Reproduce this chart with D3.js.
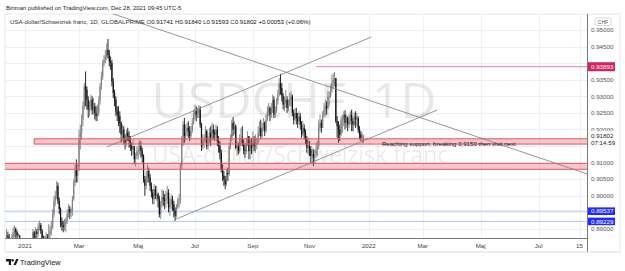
<!DOCTYPE html>
<html><head><meta charset="utf-8">
<script src="https://cdn.jsdelivr.net/npm/d3@7"></script>
<style>
html,body{margin:0;padding:0;background:#fff;}
svg{display:block;font-family:"Liberation Sans",Arial,sans-serif;}
</style></head><body>
<svg id="chart" width="625" height="271"></svg>
<script>
// ---------------- DATA ----------------
const firstBarDate = "2020-12-14";
const firstOpen = 0.8870;
const lastOpen = 0.91741;
const closes = [
0.8880,0.8875,0.8860,0.8845,0.8870, 0.8890,0.8900,0.8890,0.8880,0.8882, 0.8860,0.8850,0.8830,0.8850,0.8845,
0.8810,0.8795,0.8800,0.8855,0.8860, 0.8890,0.8865,0.8892,0.8885,0.8905, 0.8912,0.8895,0.8868,0.8855,0.8868,
0.8875,0.8865,0.8885,0.8895,0.8905, 0.8945,0.8985,0.9000,0.9030,0.8985, 0.8960,0.8920,0.8912,0.8905,0.8915,
0.8925,0.8945,0.8960,0.8950,0.8955, 0.8990,0.9040,0.9080,0.9060,0.9075, 0.9170,0.9190,0.9230,0.9270,0.9330,
0.9320,0.9290,0.9260,0.9270,0.9290, 0.9260,0.9270,0.9250,0.9240,0.9250, 0.9285,0.9330,0.9360,0.9400,0.9410,
0.9420,0.9440,0.9425,0.9405,0.9400, 0.9345,0.9310,0.9290,0.9255,0.9245, 0.9240,0.9220,0.9185,0.9200,0.9170,
0.9160,0.9190,0.9180,0.9165,0.9150, 0.9140,0.9150,0.9110,0.9120,0.9135, 0.9140,0.9150,0.9135,0.9120,0.9050,
0.9030,0.9060,0.9075,0.9055,0.9030, 0.9010,0.8990,0.9020,0.9000,0.9005, 0.8990,0.8945,0.8975,0.8995,0.8990,
0.8985,0.8990,0.9010,0.8965,0.8975, 0.8990,0.8975,0.8955,0.8940,0.8965, 0.8985,0.8990,0.9090,0.9160,0.9215,
0.9180,0.9190,0.9205,0.9195,0.9180, 0.9195,0.9220,0.9245,0.9255,0.9245, 0.9250,0.9260,0.9215,0.9150,0.9165,
0.9170,0.9195,0.9150,0.9165,0.9190, 0.9175,0.9200,0.9190,0.9185,0.9200, 0.9165,0.9150,0.9130,0.9080,0.9060,
0.9050,0.9035,0.9070,0.9065,0.9150, 0.9175,0.9220,0.9200,0.9210,0.9145, 0.9150,0.9135,0.9170,0.9175,0.9160,
0.9140,0.9135,0.9160,0.9180,0.9135, 0.9155,0.9145,0.9160,0.9150,0.9155, 0.9160,0.9190,0.9205,0.9180,0.9205,
0.9220,0.9195,0.9230,0.9255,0.9265, 0.9245,0.9265,0.9290,0.9245,0.9255, 0.9285,0.9305,0.9340,0.9325,0.9300,
0.9275,0.9280,0.9290,0.9265,0.9275, 0.9290,0.9300,0.9250,0.9230,0.9250, 0.9235,0.9225,0.9240,0.9215,0.9185,
0.9205,0.9190,0.9170,0.9145,0.9150, 0.9140,0.9120,0.9125,0.9115,0.9125, 0.9140,0.9150,0.9215,0.9220,0.9205,
0.9240,0.9260,0.9270,0.9265,0.9300, 0.9300,0.9320,0.9340,0.9350,0.9355, 0.9225,0.9210,0.9200,0.9185,0.9230,
0.9230,0.9245,0.9220,0.9235,0.9215, 0.9230,0.9245,0.9225,0.9215,0.9240, 0.9230,0.9235,0.9200,0.9185,0.9174,
0.91741,0.91802
];
const highs = [
0.8900,0.8892,0.8885,0.8870,0.8885, 0.8905,0.8912,0.8905,0.8895,0.8888, 0.8871,0.8868,0.8855,0.8862,0.8852,
0.8860,0.8820,0.8830,0.8868,0.8870, 0.8900,0.8895,0.8905,0.8900,0.8918, 0.8925,0.8918,0.8900,0.8880,0.8880,
0.8890,0.8885,0.8915,0.8910,0.8925, 0.8960,0.9000,0.9015,0.9045,0.9040, 0.8995,0.8965,0.8935,0.8925,0.8930,
0.8935,0.8960,0.8975,0.8970,0.8965, 0.9000,0.9050,0.9095,0.9110,0.9095, 0.9200,0.9215,0.9245,0.9285,0.9340,
0.9375,0.9330,0.9300,0.9285,0.9305, 0.9300,0.9295,0.9280,0.9270,0.9275, 0.9300,0.9340,0.9375,0.9410,0.9425,
0.9440,0.9460,0.9473,0.9440,0.9420, 0.9410,0.9355,0.9320,0.9300,0.9270, 0.9270,0.9255,0.9225,0.9215,0.9210,
0.9185,0.9200,0.9205,0.9195,0.9180, 0.9160,0.9170,0.9150,0.9130,0.9150, 0.9160,0.9168,0.9165,0.9145,0.9125,
0.9060,0.9075,0.9095,0.9085,0.9065, 0.9040,0.9020,0.9035,0.9030,0.9030, 0.9010,0.9000,0.8985,0.9020,0.9015,
0.9005,0.9015,0.9030,0.9020,0.8995, 0.9005,0.9000,0.8985,0.8965,0.8975, 0.8995,0.9005,0.9100,0.9180,0.9225,
0.9235,0.9215,0.9220,0.9225,0.9210, 0.9210,0.9235,0.9260,0.9275,0.9270, 0.9265,0.9274,0.9270,0.9220,0.9185,
0.9185,0.9210,0.9200,0.9180,0.9205, 0.9210,0.9220,0.9215,0.9200,0.9215, 0.9210,0.9180,0.9165,0.9140,0.9095,
0.9075,0.9060,0.9080,0.9085,0.9160, 0.9185,0.9230,0.9237,0.9225,0.9215, 0.9165,0.9160,0.9185,0.9205,0.9210,
0.9170,0.9155,0.9175,0.9195,0.9180, 0.9170,0.9175,0.9195,0.9180,0.9185, 0.9175,0.9210,0.9225,0.9230,0.9220,
0.9235,0.9225,0.9245,0.9270,0.9280, 0.9270,0.9280,0.9305,0.9300,0.9270, 0.9295,0.9320,0.9355,0.9368,0.9340,
0.9310,0.9300,0.9320,0.9300,0.9290, 0.9310,0.9315,0.9305,0.9260,0.9265, 0.9265,0.9250,0.9255,0.9250,0.9225,
0.9225,0.9215,0.9200,0.9180,0.9175, 0.9165,0.9150,0.9145,0.9140,0.9140, 0.9160,0.9165,0.9230,0.9245,0.9230,
0.9255,0.9280,0.9290,0.9285,0.9315, 0.9315,0.9335,0.9365,0.9370,0.9374, 0.9355,0.9240,0.9225,0.9215,0.9240,
0.9245,0.9255,0.9258,0.9245,0.9240, 0.9245,0.9255,0.9260,0.9235,0.9250, 0.9255,0.9250,0.9240,0.9210,0.9195,
0.9190,0.91840
];
const lows = [
0.8855,0.8860,0.8840,0.8810,0.8840, 0.8850,0.8875,0.8870,0.8865,0.8875, 0.8845,0.8830,0.8815,0.8825,0.8840,
0.8800,0.8780,0.8760,0.8795,0.8830, 0.8850,0.8850,0.8860,0.8870,0.8878, 0.8895,0.8885,0.8855,0.8840,0.8845,
0.8855,0.8850,0.8860,0.8870,0.8880, 0.8900,0.8935,0.8970,0.8990,0.8975, 0.8945,0.8905,0.8895,0.8890,0.8895,
0.8890,0.8915,0.8935,0.8930,0.8935, 0.8940,0.8985,0.9030,0.9040,0.9040, 0.9090,0.9140,0.9170,0.9210,0.9260,
0.9270,0.9260,0.9235,0.9240,0.9255, 0.9245,0.9245,0.9230,0.9225,0.9225, 0.9240,0.9275,0.9320,0.9350,0.9390,
0.9400,0.9410,0.9415,0.9390,0.9380, 0.9330,0.9295,0.9270,0.9240,0.9225, 0.9210,0.9190,0.9160,0.9170,0.9155,
0.9140,0.9150,0.9165,0.9145,0.9135, 0.9120,0.9125,0.9095,0.9088,0.9110, 0.9110,0.9125,0.9115,0.9100,0.9040,
0.9000,0.9020,0.9040,0.9040,0.9015, 0.8995,0.8975,0.8975,0.8990,0.8985, 0.8965,0.8935,0.8930,0.8965,0.8970,
0.8960,0.8965,0.8975,0.8950,0.8940, 0.8960,0.8955,0.8935,0.8925,0.8935, 0.8960,0.8965,0.8975,0.9080,0.9150,
0.9160,0.9165,0.9180,0.9175,0.9165, 0.9170,0.9190,0.9215,0.9230,0.9225, 0.9235,0.9235,0.9205,0.9135,0.9140,
0.9145,0.9160,0.9140,0.9140,0.9160, 0.9150,0.9165,0.9170,0.9165,0.9175, 0.9150,0.9130,0.9110,0.9070,0.9045,
0.9030,0.9020,0.9030,0.9045,0.9060, 0.9140,0.9165,0.9180,0.9185,0.9140, 0.9120,0.9125,0.9130,0.9150,0.9150,
0.9125,0.9115,0.9125,0.9150,0.9110, 0.9110,0.9125,0.9130,0.9135,0.9130, 0.9140,0.9155,0.9180,0.9170,0.9175,
0.9195,0.9180,0.9190,0.9225,0.9240, 0.9225,0.9235,0.9250,0.9235,0.9235, 0.9250,0.9275,0.9300,0.9305,0.9285,
0.9260,0.9255,0.9265,0.9250,0.9255, 0.9270,0.9270,0.9240,0.9215,0.9225, 0.9215,0.9205,0.9215,0.9200,0.9175,
0.9180,0.9170,0.9155,0.9130,0.9125, 0.9120,0.9100,0.9095,0.9090,0.9100, 0.9115,0.9120,0.9140,0.9195,0.9190,
0.9205,0.9235,0.9240,0.9245,0.9260, 0.9270,0.9295,0.9310,0.9325,0.9330, 0.9220,0.9175,0.9160,0.9165,0.9180,
0.9190,0.9210,0.9200,0.9205,0.9195, 0.9205,0.9215,0.9195,0.9195,0.9210, 0.9205,0.9210,0.9190,0.9170,0.9165,
0.9158,0.91593
];
const priceTicks = [0.95,0.945,0.94,0.935,0.93,0.925,0.92,0.915,0.91,0.905,0.90,0.895,0.89];
const priceTickLabels = [0.95,0.945,0.935,0.93,0.925,0.92,0.91,0.905,0.90,0.89];
const timeTickDates = ["2021-01-01","2021-03-01","2021-05-03","2021-07-01","2021-09-01","2021-11-01","2022-01-03","2022-03-01","2022-05-02","2022-07-01","2022-08-15"];
const timeTickLabels = ["2021","Mar","Maj","Jul","Sep","Nov","2022","Mar","Maj","Jul","15"];
const zoneFrom = ["2021-01-12","2020-11-02"];
const zoneTop = [0.9172, 0.9098];
const zoneBottom = [0.9156, 0.9080];
const trendFromDate = ["2021-03-26","2021-03-30","2021-06-09"];
const trendFromPrice = [0.95579, 0.91472, 0.89271];
const trendToDate = ["2022-08-31","2022-01-05","2022-03-16"];
const trendToPrice = [0.90577, 0.94789, 0.92588];
const resistanceLevel = 0.93893, resistanceFrom = "2021-11-08";
const blueLevels = [0.89537, 0.89229];
const lastPrice = 0.91802, countdown = "07:14:59";
const noteText = "Reaching support, breaking 0,9150 then visit next";
const noteDate = "2022-01-17", notePrice = 0.91575;
const headerText = "Birtman published on TradingView.com, Dec 28, 2021 09:45 UTC-5";
const symbolTitle = "USA-dollar/Schweizisk franc, 1D, GLOBALPRIME";
const ohlcText = [["O","0.91741"],["H","0.91840"],["L","0.91593"],["C","0.91802"]];
const changeText = "+0.00053 (+0.06%)";

// ---------------- SETUP ----------------
const svg = d3.select("#chart");
const parse = d3.utcParse("%Y-%m-%d");
const days = d3.utcDay.range(parse("2020-11-02"), parse("2022-10-01"))
  .filter(d => d.getUTCDay() !== 0 && d.getUTCDay() !== 6);
const dayIdx = new Map(days.map((d,i)=>[+d,i]));
const idxOf = s => dayIdx.get(+parse(s));
const L = 5, R = 587, T = 14, B = 238;
const x = d3.scaleLinear().domain([idxOf("2021-01-01"), idxOf("2022-08-15")]).range([25, 579.5]);
const xd = s => x(idxOf(s));
const y = d3.scaleLinear().domain([0.89, 0.95]).range([229, 30]);

const start = idxOf(firstBarDate);
const bars = closes.map((c,i)=>({i:start+i, c, h:highs[i], l:lows[i],
  o: i===closes.length-1 ? lastOpen : (i===0 ? firstOpen : closes[i-1])}));

// frame
svg.append("rect").attr("x",L).attr("y",T).attr("width",620-L).attr("height",252-T)
  .attr("fill","#fff").attr("stroke","#e0e3eb").attr("stroke-width",0.8);

const defs = svg.append("defs");
defs.append("clipPath").attr("id","plot").append("rect").attr("x",L).attr("y",T).attr("width",R-L).attr("height",B-T);

// grid
const grid = svg.append("g").attr("clip-path","url(#plot)");
grid.selectAll("line.h").data(priceTicks).join("line")
  .attr("x1",L).attr("x2",R).attr("y1",d=>Math.round(y(d))+0.5).attr("y2",d=>Math.round(y(d))+0.5)
  .attr("stroke","#eef0f5").attr("stroke-width",1);
grid.selectAll("line.v").data(timeTickDates).join("line")
  .attr("x1",d=>Math.round(xd(d))+0.5).attr("x2",d=>Math.round(xd(d))+0.5).attr("y1",T).attr("y2",B)
  .attr("stroke","#eef0f5").attr("stroke-width",1);

// watermark
svg.append("text").attr("x",294).attr("y",118).attr("text-anchor","middle")
  .attr("font-size",50).attr("fill","#000").attr("fill-opacity",0.09)
  .attr("font-family","'Open Sans',sans-serif").text("USDCHF, 1D");
svg.append("text").attr("x",300).attr("y",163).attr("text-anchor","middle")
  .attr("font-size",23).attr("fill","#000").attr("fill-opacity",0.09)
  .attr("font-family","'Open Sans',sans-serif").text("USA-dollar/Schweizisk franc");

const plot = svg.append("g").attr("clip-path","url(#plot)");

// blue levels
plot.selectAll("line.blue").data(blueLevels).join("line")
  .attr("x1",L).attr("x2",R).attr("y1",d=>y(d)).attr("y2",d=>y(d))
  .attr("stroke","#b9c0ff").attr("stroke-width",1);

// candles
const up = "#808080", dn = "#111";
plot.selectAll("line.wick").data(bars).join("line")
  .attr("x1",d=>x(d.i)).attr("x2",d=>x(d.i)).attr("y1",d=>y(d.h)).attr("y2",d=>y(d.l))
  .attr("stroke",d=>d.c>=d.o?up:dn).attr("stroke-width",0.9);
plot.selectAll("rect.body").data(bars).join("rect")
  .attr("x",d=>x(d.i)-0.6).attr("width",1.2)
  .attr("y",d=>y(Math.max(d.o,d.c))).attr("height",d=>Math.max(0.6,Math.abs(y(d.o)-y(d.c))))
  .attr("fill",d=>d.c>=d.o?up:dn);

// zones
plot.selectAll("rect.zone").data(zoneFrom).join("rect")
  .attr("x",d=>xd(d)).attr("width",d=>R+10-xd(d))
  .attr("y",(d,i)=>y(zoneTop[i])).attr("height",(d,i)=>y(zoneBottom[i])-y(zoneTop[i]))
  .attr("fill","rgba(236,70,80,0.3)").attr("stroke","#e05763").attr("stroke-width",1);

// trendlines
plot.selectAll("line.trend").data(trendFromDate).join("line")
  .attr("x1",d=>xd(d)).attr("y1",(d,i)=>y(trendFromPrice[i]))
  .attr("x2",(d,i)=>xd(trendToDate[i])).attr("y2",(d,i)=>y(trendToPrice[i]))
  .attr("stroke","#7c7c7c").attr("stroke-width",0.8);

// resistance
plot.append("line").attr("x1",xd(resistanceFrom)).attr("x2",R).attr("y1",y(resistanceLevel)).attr("y2",y(resistanceLevel))
  .attr("stroke","#e8799c").attr("stroke-width",1);

// note
svg.append("text").attr("x",xd(noteDate)).attr("y",y(notePrice)).attr("dy","0.35em")
  .attr("font-size",6.1).attr("fill","#111").text(noteText);

// axes lines
svg.append("line").attr("x1",R+0.5).attr("x2",R+0.5).attr("y1",T).attr("y2",252).attr("stroke","#555").attr("stroke-width",0.8);
svg.append("line").attr("x1",L).attr("x2",R).attr("y1",B+0.5).attr("y2",B+0.5).attr("stroke","#555").attr("stroke-width",0.8);

// price labels
const pAxis = svg.append("g");
pAxis.selectAll("text").data(priceTickLabels).join("text")
  .attr("x",591).attr("y",d=>y(d)).attr("dy","0.35em").attr("font-size",6.2).attr("fill","#555")
  .text(d=>d3.format(".5f")(d));
// last price box
pAxis.append("rect").attr("x",R+1).attr("y",y(lastPrice)-5).attr("width",30).attr("height",14).attr("fill","#fff");
pAxis.append("text").attr("x",591).attr("y",y(lastPrice)).attr("dy","0.35em").attr("font-size",6.2).attr("fill","#222").text(d3.format(".5f")(lastPrice));
pAxis.append("text").attr("x",591).attr("y",y(lastPrice)+7).attr("dy","0.35em").attr("font-size",6.2).attr("fill","#222").text(countdown);
// resistance label
pAxis.append("rect").attr("x",R+1).attr("y",y(resistanceLevel)-4.5).attr("width",27).attr("height",9).attr("fill","#d3225f");
pAxis.append("text").attr("x",591).attr("y",y(resistanceLevel)).attr("dy","0.35em").attr("font-size",6.2).attr("fill","#fff").text(d3.format(".5f")(resistanceLevel));
// blue labels
blueLevels.forEach(v=>{
  pAxis.append("rect").attr("x",R+1).attr("y",y(v)-3.8).attr("width",27).attr("height",7.6).attr("fill","#1f2bff");
  pAxis.append("text").attr("x",591).attr("y",y(v)).attr("dy","0.35em").attr("font-size",6.2).attr("fill","#fff").text(d3.format(".5f")(v));
});
// CHF tag
pAxis.append("rect").attr("x",595).attr("y",18).attr("width",16).attr("height",7.5).attr("rx",2)
  .attr("fill","#fff").attr("stroke","#bbb").attr("stroke-width",0.6);
pAxis.append("text").attr("x",603).attr("y",21.8).attr("dy","0.35em").attr("text-anchor","middle").attr("font-size",5).attr("fill","#555").text("CHF");

// time labels
svg.selectAll("text.t").data(timeTickDates).join("text")
  .attr("x",d=>xd(d)).attr("y",245.5).attr("dy","0.35em").attr("text-anchor","middle")
  .attr("font-size",6.2).attr("fill","#444").text((d,i)=>timeTickLabels[i]);
svg.append("line").attr("x1",L).attr("x2",620).attr("y1",252).attr("y2",252).attr("stroke","#e0e3eb").attr("stroke-width",0.8);

// header & legend
svg.append("text").attr("x",6).attr("y",7.5).attr("dy","0.35em").attr("font-size",5.9).attr("fill","#222").text(headerText);
const leg = svg.append("text").attr("x",10).attr("y",22).attr("dy","0.35em").attr("font-size",6.1).attr("fill","#333");
leg.append("tspan").text(symbolTitle + " ");
ohlcText.forEach(([k,v])=>{ leg.append("tspan").text(k); leg.append("tspan").attr("fill","#111").text(v+" "); });
leg.append("tspan").attr("fill","#111").text(changeText);

// logo
const lg = svg.append("g").attr("fill","#131722");
lg.append("path").attr("d","M6 259 h5 v6 h-2.2 v-3.6 h-2.8 z");
lg.append("circle").attr("cx",12.6).attr("cy",260.2).attr("r",1.2);
lg.append("path").attr("d","M13.5 265 l2.6 -6 h2.4 l-2.6 6 z");
svg.append("text").attr("x",20).attr("y",262).attr("dy","0.35em").attr("font-size",7.4).attr("fill","#131722").text("TradingView");
</script>
</body></html>
